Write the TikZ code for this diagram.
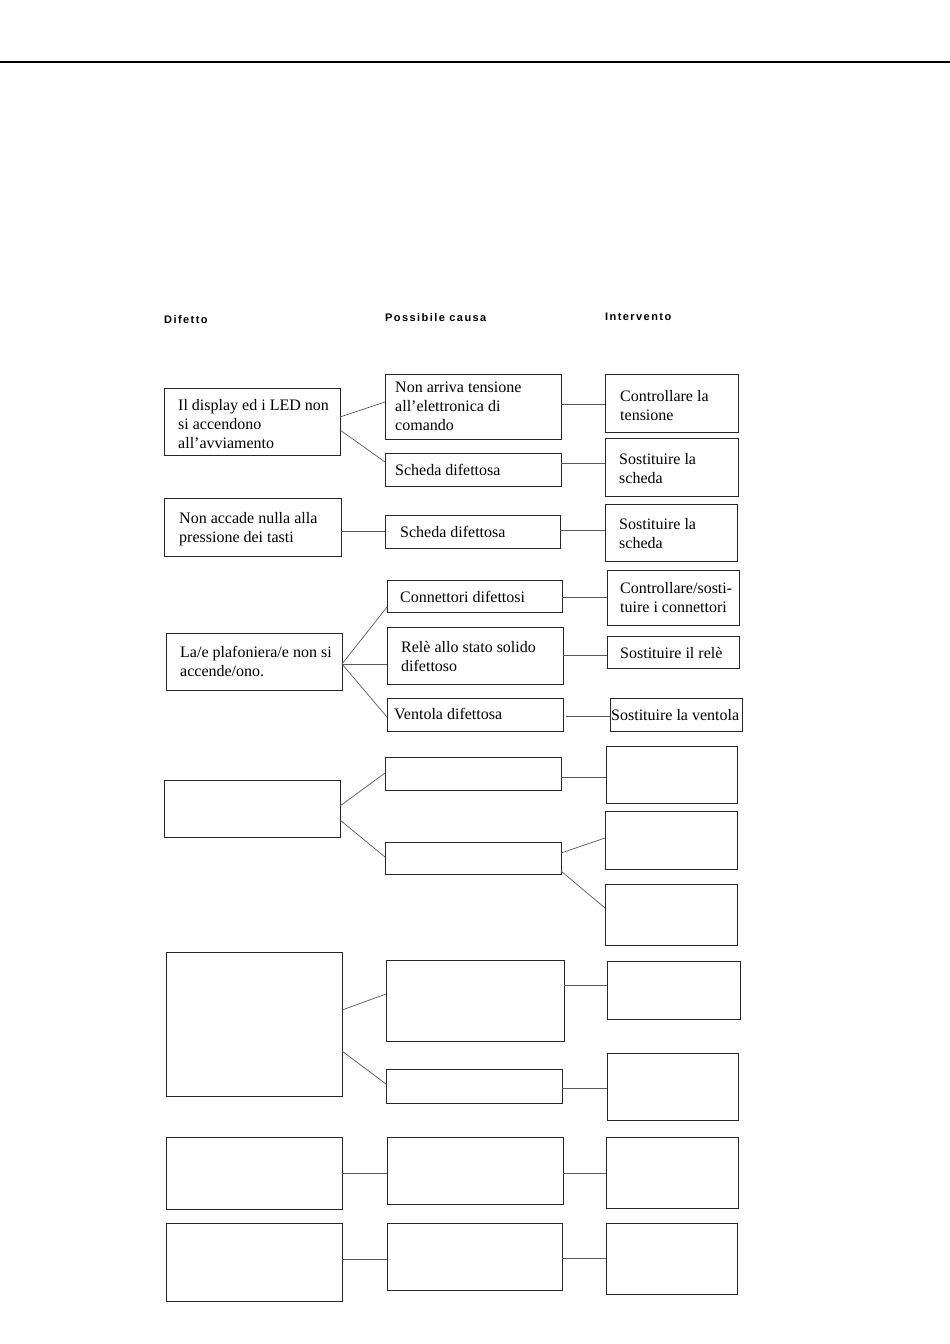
\documentclass[tikz,border=0pt]{standalone}
\usepackage{fontspec}
\setmainfont{Liberation Serif}
\newfontfamily\hdfont[LetterSpace=13]{Liberation Sans}
\usetikzlibrary{calc}
\tikzset{
 box/.style={draw=black!85, line width=0.9pt, inner sep=0pt, outer sep=0pt, anchor=north west},
 txt/.style={anchor=north west, inner sep=0pt, align=left, yshift=-1.5pt, font=\fontsize{16}{19}\selectfont},
 hd/.style={anchor=base west, inner sep=0pt, font=\hdfont\bfseries\fontsize{11}{13}\selectfont},
 link/.style={draw=black!65, line width=0.7pt},
 rule/.style={line width=1.2pt}
}
\newcommand\bx[5]{\node[box, minimum width={(#4-#2)*1pt}, minimum height={(#5-#3)*1pt}] (#1) at (#2,#3) {};}
\newcommand\lk[4]{\draw[link] ($(#1.north east)+(0,#2)$) -- ($(#3.north west)+(0,#4)$);}
\begin{document}
\begin{tikzpicture}[x=1pt,y=-1pt]
\useasboundingbox (0,0) rectangle (950,1344);
\fill[white] (0,0) rectangle (950,1344);
\coordinate (rl) at (0,62);
\coordinate (rr) at (950,62);
\draw[rule] (rl) -- (rr);
% headings
\node[hd] (h1) at (164,323) {Difetto};
\node[hd] (h2) at (385,321) {Possibile causa};
\node[hd] (h3) at (605,320) {Intervento};
% row 1
\bx{D1}{164}{388}{340}{455}
\bx{C1a}{385}{374}{561}{439}
\bx{C1b}{385}{453}{561}{486}
\bx{I1a}{605}{374}{738}{432}
\bx{I1b}{605}{438}{738}{496}
\node[txt] (tD1) at (178,397.5) {Il display ed i LED non\\si accendono\\all’avviamento};
\node[txt] (tC1a) at (395,380.5) {Non arriva tensione\\all’elettronica di\\comando};
\node[txt] (tC1b) at (395,462.5) {Scheda difettosa};
\node[txt] (tI1a) at (620,388.5) {Controllare la\\tensione};
\node[txt] (tI1b) at (619,451.5) {Sostituire la\\scheda};
\lk{D1}{29}{C1a}{28}
\lk{D1}{42}{C1b}{9}
\lk{C1a}{30}{I1a}{30}
\lk{C1b}{10}{I1b}{25}
% row 2
\bx{D2}{164}{498}{341}{556}
\bx{C2}{385}{515}{560}{548}
\bx{I2}{605}{504}{737}{561}
\node[txt] (tD2) at (179,510.5) {Non accade nulla alla\\pressione dei tasti};
\node[txt] (tC2) at (400,524.5) {Scheda difettosa};
\node[txt] (tI2) at (619,516.5) {Sostituire la\\scheda};
\lk{D2}{33}{C2}{16}
\lk{C2}{15}{I2}{26}
% row 3
\bx{D3}{166}{633}{342}{690}
\bx{C3a}{387}{580}{562}{612}
\bx{C3b}{387}{627}{563}{684}
\bx{C3c}{387}{698}{563}{731}
\bx{I3a}{607}{570}{739}{625}
\bx{I3b}{607}{636}{739}{668}
\bx{I3c}{610}{698}{742}{731}
\node[txt] (tD3) at (180,644.5) {La/e plafoniera/e non si\\accende/ono.};
\node[txt] (tC3a) at (400,589.5) {Connettori difettosi};
\node[txt] (tC3b) at (401,639.5) {Relè allo stato solido\\difettoso};
\node[txt] (tC3c) at (394,706.5) {Ventola difettosa};
\node[txt] (tI3a) at (620,580.5) {Controllare/sosti-\\tuire i connettori};
\node[txt] (tI3b) at (620,645.5) {Sostituire il relè};
\node[txt] (tI3c) at (611,707.5) {Sostituire la ventola};
\lk{D3}{31}{C3a}{27}
\lk{D3}{31}{C3b}{37}
\lk{D3}{31}{C3c}{19}
\lk{C3a}{17}{I3a}{27}
\lk{C3b}{28}{I3b}{19}
\draw[link] ($(C3c.north east)+(3,18)$) -- ($(I3c.north west)+(0,18)$);
% row 4
\bx{D4}{164}{780}{340}{837}
\bx{C4a}{385}{757}{561}{790}
\bx{C4b}{385}{842}{561}{874}
\bx{I4a}{606}{746}{737}{803}
\bx{I4b}{605}{811}{737}{869}
\bx{I4c}{605}{884}{737}{945}
\lk{D4}{26}{C4a}{16}
\lk{D4}{40}{C4b}{15}
\lk{C4a}{20}{I4a}{31}
\lk{C4b}{11}{I4b}{27}
\lk{C4b}{29}{I4c}{24}
% row 5
\bx{D5}{166}{952}{342}{1096}
\bx{C5a}{386}{960}{564}{1041}
\bx{C5b}{386}{1069}{562}{1103}
\bx{I5a}{607}{961}{740}{1019}
\bx{I5b}{607}{1053}{738}{1120}
\lk{D5}{58}{C5a}{34}
\lk{D5}{99}{C5b}{15}
\lk{C5a}{25}{I5a}{24}
\lk{C5b}{19}{I5b}{35}
% row 6
\bx{D6}{166}{1137}{342}{1209}
\bx{C6}{387}{1137}{563}{1204}
\bx{I6}{606}{1137}{738}{1208}
\lk{D6}{36}{C6}{36}
\lk{C6}{36}{I6}{36}
% row 7
\bx{D7}{166}{1223}{342}{1301}
\bx{C7}{387}{1223}{562}{1290}
\bx{I7}{606}{1223}{737}{1294}
\lk{D7}{36}{C7}{36}
\lk{C7}{35}{I7}{35}
\end{tikzpicture}
\end{document}
